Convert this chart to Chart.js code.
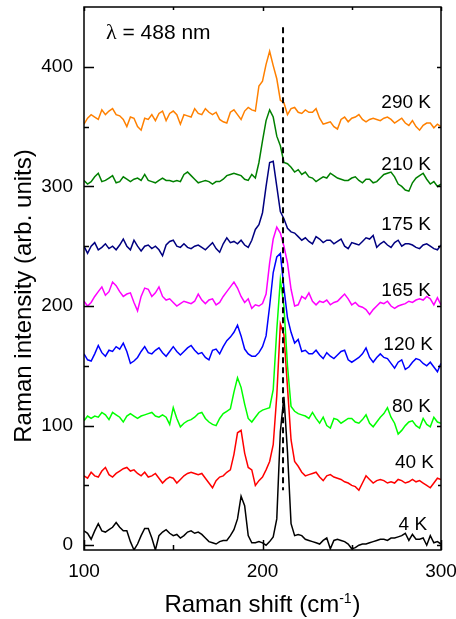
<!DOCTYPE html>
<html>
  <head>
    <meta charset="utf-8"/>
    <style>
      html, body { margin: 0; padding: 0; background: #fff; }
    </style>
  </head>
  <body>
    <canvas id="chart-area" width="456" height="619"></canvas>

    <script src="https://cdn.jsdelivr.net/npm/chart.js@4/dist/chart.umd.min.js"></script>
    <script>
        // Raman shift grid (cm-1)
        var shift = [
            100,102,104,106,108,110,112,114,116,118,
            120,122,124,126,128,130,132,134,136,138,
            140,142,144,146,148,150,152,154,156,158,
            160,162,164,166,168,170,172,174,176,178,
            180,182,184,186,188,190,192,194,196,198,
            200,202,204,206,208,210,212,214,216,218,
            220,222,224,226,228,230,232,234,236,238,
            240,242,244,246,248,250,252,254,256,258,
            260,262,264,266,268,270,272,274,276,278,
            280,282,284,286,288,290,292,294,296,298,
            300
        ];

        // spectra, already offset for stacking (arb. units)
        var int290K = [
            352,357,360,358,356,364,360,363,365,360,
            359,356,350,358,357,350,347,357,356,360,
            355,361,363,355,361,363,360,352,360,359,
            358,365,361,360,365,362,360,362,356,354,
            353,362,364,360,356,363,366,364,363,384,
            388,402,413,401,390,372,370,360,365,366,
            362,361,364,362,362,365,357,352,353,354,
            350,348,356,358,354,357,358,360,356,354,
            356,357,356,355,357,358,356,353,355,357,
            353,351,355,350,347,351,353,353,349,352,
            350
        ];
        var int210K = [
            305,302,304,308,311,304,305,307,309,303,
            304,308,306,304,306,307,305,310,305,304,
            303,305,307,305,305,304,305,304,310,312,
            309,306,303,304,305,304,302,304,304,306,
            309,310,311,310,309,306,305,310,307,320,
            338,355,364,358,342,334,320,319,316,312,
            314,310,312,308,307,304,306,308,307,311,
            309,307,306,305,305,307,308,305,303,306,
            306,303,304,307,310,311,312,308,302,300,
            297,296,303,307,309,311,306,302,304,300,
            302
        ];
        var int175K = [
            250,244,250,253,247,249,252,248,250,247,
            251,256,250,247,255,250,246,250,251,248,
            250,247,242,251,254,255,250,249,252,249,
            248,250,251,249,247,250,253,248,245,252,
            257,253,254,252,255,251,249,255,264,268,
            278,300,320,321,300,279,273,265,262,261,
            258,255,257,254,252,258,256,253,255,255,
            252,254,256,250,248,253,252,251,254,257,
            256,259,249,252,254,251,249,253,255,250,
            252,252,251,249,248,251,252,250,248,247,
            251
        ];
        var int165K = [
            204,200,203,208,212,216,209,212,220,217,
            212,208,210,211,203,196,208,215,214,208,
            211,216,208,205,206,203,200,202,204,203,
            202,204,210,205,202,205,206,201,203,208,
            212,216,220,215,208,203,206,198,201,200,
            202,210,236,256,266,261,250,236,214,200,
            201,208,206,211,204,201,204,203,205,201,
            203,204,207,210,206,201,203,200,199,197,
            193,197,200,203,202,204,200,198,200,201,
            202,204,203,205,206,205,208,206,201,207,
            201
        ];
        var int120K = [
            160,155,154,160,167,161,158,163,162,166,
            164,169,162,152,154,157,162,166,161,160,
            163,165,161,158,162,166,162,159,162,165,
            167,163,160,161,157,155,163,164,160,166,
            171,174,178,184,175,164,160,158,158,161,
            166,175,200,228,241,244,215,190,178,169,
            172,162,163,160,160,163,159,156,161,158,
            156,159,162,163,155,153,155,157,160,165,
            157,153,157,160,157,156,152,148,153,155,
            147,149,153,156,155,152,150,153,149,145,
            152
        ];
        var int80K = [
            104,108,106,108,107,111,109,105,111,109,
            107,103,108,110,108,106,108,109,110,111,
            108,107,109,107,101,115,106,99,102,104,
            105,107,110,111,106,103,101,100,106,110,
            112,114,128,140,132,118,106,103,107,111,
            113,114,115,130,180,222,200,150,116,112,
            110,109,108,106,111,106,102,107,100,98,
            106,105,102,104,106,106,103,102,105,109,
            102,99,103,107,110,115,107,102,93,96,
            100,103,104,100,98,106,101,99,107,103,
            102
        ];
        var int40K = [
            58,56,61,58,57,62,65,59,57,60,
            62,64,65,62,63,60,58,61,57,58,
            60,56,52,55,57,56,52,55,58,60,
            61,60,59,60,56,52,48,54,57,58,
            61,63,76,94,96,77,65,63,50,54,
            57,63,70,84,125,185,176,132,88,70,
            66,61,58,59,60,61,57,54,58,59,
            57,56,55,53,52,50,49,46,52,58,
            55,52,54,55,54,52,53,52,55,54,
            52,53,55,53,54,52,50,48,52,56,
            55
        ];
        var int4K = [
            12,10,5,12,18,12,11,13,15,19,
            15,12,12,3,-4,1,8,14,14,6,
            -4,8,11,13,10,8,9,6,8,11,
            12,10,11,9,6,3,2,1,3,4,
            4,8,13,22,41,33,8,2,2,3,
            2,0,3,7,22,95,124,78,18,8,
            9,8,5,4,3,2,1,4,6,-3,
            4,5,4,3,1,-3,-2,0,1,1,
            2,3,4,5,5,4,6,6,7,8,
            10,4,9,5,5,6,0,8,2,3,
            1
        ];

        var tempLabels = ['290 K', '210 K', '175 K', '165 K', '120 K', '80 K', '40 K', '4 K'];
        var xTicks = [100, 200, 300];
        var yTicks = [0, 100, 200, 300, 400];

        // reference phonon line
        var refShift = 211.5;
        var refTop = 433;
        var refBottom = 46;

        var lineColors = ['#FF8000', '#008000', '#000080', '#FF00FF', '#0000FF', '#00FF00', '#FF0000', '#000000'];
        // where each temperature tag sits (x of right edge, y of baseline, data units)
        var tagX = [294.4, 294.4, 294.4, 294.4, 295.5, 294.4, 296.1, 292.2];
        var tagY = [365.7, 313.8, 263.6, 208.4, 163.2, 111.5, 64.4, 12.6];

        var fontFamily = '"Liberation Sans", Arial, sans-serif';

        var series = [int290K, int210K, int175K, int165K, int120K, int80K, int40K, int4K];
        var datasets = series.map(function(vals, i) {
            return {
                label: tempLabels[i],
                data: shift.map(function(x, j) { return {x: x, y: vals[j]}; }),
                borderColor: lineColors[i],
                borderWidth: 1.5,
                pointRadius: 0,
                tension: 0,
                fill: false,
                order: i + 1
            };
        });
        datasets.push({
            label: 'ref',
            data: [{x: refShift, y: refTop}, {x: refShift, y: refBottom}],
            borderColor: '#000000',
            borderWidth: 2,
            borderDash: [6, 4],
            pointRadius: 0,
            fill: false,
            order: 0
        });

        // frame, inward ticks, tags and axis titles
        var decorations = {
            id: 'decorations',
            afterDraw: function(chart) {
                var ctx = chart.ctx;
                var a = chart.chartArea;
                var xs = chart.scales.x, ys = chart.scales.y;
                ctx.save();
                ctx.strokeStyle = '#000';
                ctx.lineWidth = 1.5;
                ctx.strokeRect(a.left, a.top, a.right - a.left, a.bottom - a.top);

                ctx.beginPath();
                [0, 100, 200, 300, 400, 50, 150, 250, 350].forEach(function(v) {
                    var major = v % 100 === 0;
                    var py = Math.round(ys.getPixelForValue(v)) + 0.5;
                    ctx.moveTo(a.left, py); ctx.lineTo(a.left + (major ? 10 : 5), py);
                    ctx.moveTo(a.right, py); ctx.lineTo(a.right - (major ? 4 : 3), py);
                });
                [100, 200, 300, 150, 250].forEach(function(v) {
                    var major = v % 100 === 0;
                    var px = Math.round(xs.getPixelForValue(v)) + 0.5;
                    ctx.moveTo(px, a.bottom); ctx.lineTo(px, a.bottom - (major ? 10 : 5));
                    ctx.moveTo(px, a.top); ctx.lineTo(px, a.top + (major ? 4 : 3));
                });
                ctx.stroke();

                ctx.fillStyle = '#000';
                ctx.font = '19px ' + fontFamily;
                ctx.textAlign = 'right';
                ctx.textBaseline = 'alphabetic';
                tempLabels.forEach(function(t, i) {
                    ctx.fillText(t, xs.getPixelForValue(tagX[i]), ys.getPixelForValue(tagY[i]));
                });

                // excitation wavelength
                ctx.textAlign = 'left';
                var lx = xs.getPixelForValue(112.3), ly = ys.getPixelForValue(423.4);
                ctx.font = '22px "Liberation Serif", serif';
                ctx.fillText('\u03bb', lx, ly);
                var lw = ctx.measureText('\u03bb').width;
                ctx.font = '21px ' + fontFamily;
                ctx.fillText(' = 488 nm', lx + lw, ly);

                // x title with superscript
                var big = '24px ' + fontFamily, small = '14px ' + fontFamily;
                ctx.font = big;
                var w1 = ctx.measureText('Raman shift (cm').width;
                var w3 = ctx.measureText(')').width;
                ctx.font = small;
                var w2 = ctx.measureText('-1').width + 1;
                var tx = (a.left + a.right) / 2 - (w1 + w2 + w3) / 2;
                var ty = 612;
                ctx.font = big;
                ctx.fillText('Raman shift (cm', tx, ty);
                ctx.font = small;
                ctx.fillText('-1', tx + w1, ty - 9);
                ctx.font = big;
                ctx.fillText(')', tx + w1 + w2, ty);

                // y title
                ctx.translate(31, 296);
                ctx.rotate(-Math.PI / 2);
                ctx.textAlign = 'center';
                ctx.font = big;
                ctx.fillText('Raman intensity (arb. units)', 0, 0);
                ctx.restore();
            }
        };

        var ctx = document.getElementById('chart-area').getContext('2d');
        var chart = new Chart(ctx, {
            type: 'line',
            data: { datasets: datasets },
            options: {
                responsive: false,
                animation: false,
                events: [],
                layout: { padding: { top: 7, right: 15, left: 0, bottom: 0 } },
                plugins: {
                    legend: { display: false },
                    tooltip: { enabled: false }
                },
                scales: {
                    x: {
                        type: 'linear',
                        min: 100,
                        max: 300,
                        grid: { display: false, drawTicks: false },
                        border: { display: false },
                        afterBuildTicks: function(s) {
                            s.ticks = xTicks.map(function(v) { return {value: v}; });
                        },
                        afterFit: function(s) {
                            s.height = 69;
                            s.paddingLeft = 0;
                            s.paddingRight = 0;
                        },
                        ticks: {
                            color: '#000',
                            padding: 10,
                            maxRotation: 0,
                            font: { family: fontFamily, size: 19 }
                        }
                    },
                    y: {
                        type: 'linear',
                        min: -4,
                        max: 450,
                        grid: { display: false, drawTicks: false },
                        border: { display: false },
                        afterBuildTicks: function(s) {
                            s.ticks = yTicks.map(function(v) { return {value: v}; });
                        },
                        afterFit: function(s) {
                            s.width = 84;
                            s.paddingTop = 0;
                            s.paddingBottom = 0;
                        },
                        ticks: {
                            color: '#000',
                            padding: 11,
                            font: { family: fontFamily, size: 19 }
                        }
                    }
                }
            },
            plugins: [decorations]
        });
    </script>
  </body>
</html>
